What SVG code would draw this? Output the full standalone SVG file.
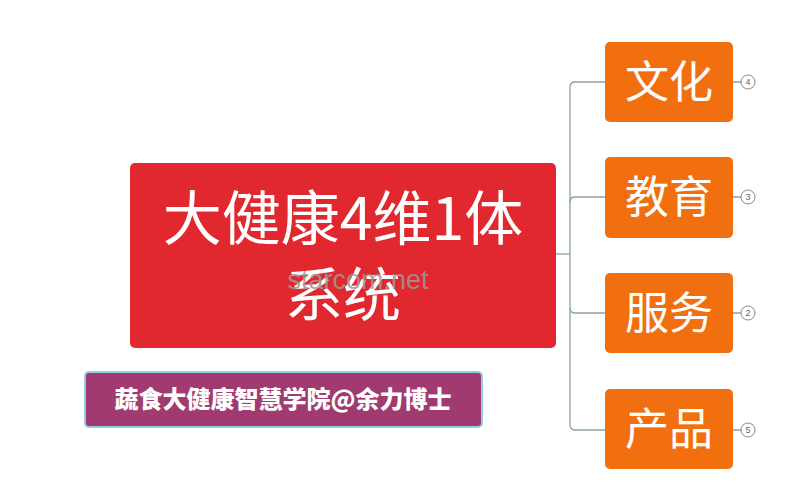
<svg xmlns="http://www.w3.org/2000/svg" width="800" height="484" viewBox="0 0 800 484">
<style>
.cjk{font-family:"Noto Sans CJK SC","Liberation Sans",sans-serif;fill:#fff;text-anchor:middle}
.leaf{fill:#f26f10}
.conn{fill:none;stroke:#8aa0a8;stroke-width:1.3}
.num{font-family:"Liberation Sans",sans-serif;font-size:9px;fill:#666;text-anchor:middle}
.badge{fill:#fff;stroke:#888;stroke-width:1}
</style>
<rect width="800" height="484" fill="#fff"/>
<g id="connectors">
<path class="conn" d="M556 254 H570"/>
<path class="conn" d="M605 82 H575 Q570 82 570 87 V425 Q570 430 575 430 H605"/>
<path class="conn" d="M570 202 Q570 197 575 197 H605"/>
<path class="conn" d="M570 308 Q570 313 575 313 H605"/>
<path class="conn" d="M733 82 H741 M733 197 H741 M733 313 H741 M733 430 H741"/>
</g>
<g id="root">
<rect x="130" y="163" width="426" height="185" rx="5" fill="#e2282f"/>
<text class="cjk" x="343" y="240" font-size="59">大健康4维1体</text>
<text class="cjk" x="343" y="316" font-size="58">系统</text>
</g>
<g id="n-wenhua">
<rect class="leaf" x="605" y="42" width="128" height="80" rx="5"/>
<text class="cjk" x="669" y="98" font-size="44">文化</text>
<circle class="badge" cx="748" cy="82" r="7"/><text class="num" x="748" y="85">4</text>
</g>
<g id="n-jiaoyu">
<rect class="leaf" x="605" y="157" width="128" height="81" rx="5"/>
<text class="cjk" x="669" y="213" font-size="44">教育</text>
<circle class="badge" cx="748" cy="197" r="7"/><text class="num" x="748" y="200">3</text>
</g>
<g id="n-fuwu">
<rect class="leaf" x="605" y="273" width="128" height="80" rx="5"/>
<text class="cjk" x="669" y="329" font-size="44">服务</text>
<circle class="badge" cx="748" cy="313" r="7"/><text class="num" x="748" y="316">2</text>
</g>
<g id="n-chanpin">
<rect class="leaf" x="605" y="389" width="128" height="80" rx="5"/>
<text class="cjk" x="669" y="445" font-size="44">产品</text>
<circle class="badge" cx="748" cy="430" r="7"/><text class="num" x="748" y="433">5</text>
</g>
<g id="label">
<rect x="85" y="372" width="397" height="55" rx="4" fill="#a13a6f" stroke="#8fd0e0" stroke-width="2"/>
<text class="cjk" x="283" y="408" font-size="24" font-weight="900">蔬食大健康智慧学院@余力博士</text>
</g>
<text x="358" y="289" font-family="Liberation Sans,sans-serif" font-size="27" fill="#9a9a9a" fill-opacity="0.85" text-anchor="middle">starcom.net</text>
</svg>
